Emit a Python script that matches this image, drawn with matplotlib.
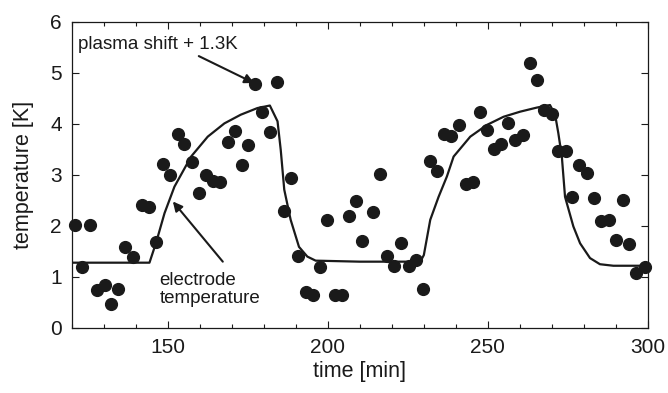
import numpy as np
import matplotlib
matplotlib.use("Agg")
import matplotlib.pyplot as plt
from matplotlib.ticker import MultipleLocator

plt.rcParams['font.family'] = ['Liberation Sans', 'DejaVu Sans']

# measured points (plasma shift + 1.3K)
t_meas = [120.9, 123.2, 125.6, 127.9, 130.3, 132.3, 134.4, 136.8, 139.1, 142.0,
          144.3, 146.4, 148.5, 150.8, 153.1, 155.2, 157.6, 159.9, 161.9, 164.0,
          166.4, 168.7, 171.0, 173.1, 175.2, 177.3, 179.6, 181.9, 184.0, 186.4,
          188.4, 190.7, 193.1, 195.4, 197.6, 199.8, 202.1, 204.3, 206.5, 208.7,
          210.8, 214.0, 216.3, 218.5, 220.8, 222.9, 225.3, 227.6, 229.7, 231.8,
          234.1, 236.2, 238.6, 240.9, 243.1, 245.5, 247.4, 249.7, 252.0, 254.1,
          256.3, 258.6, 260.9, 263.0, 265.3, 267.4, 270.0, 272.0, 274.3, 276.4,
          278.6, 280.9, 283.2, 285.3, 287.7, 289.9, 292.1, 294.1, 296.4, 299.0]
T_meas = [2.01, 1.20, 2.01, 0.75, 0.84, 0.48, 0.76, 1.59, 1.39, 2.41,
          2.38, 1.68, 3.21, 3.00, 3.80, 3.61, 3.26, 2.65, 3.00, 2.89,
          2.86, 3.65, 3.86, 3.20, 3.59, 4.78, 4.24, 3.84, 4.82, 2.30,
          2.93, 1.42, 0.70, 0.65, 1.20, 2.11, 0.65, 0.65, 2.20, 2.48,
          1.71, 2.28, 3.01, 1.42, 1.21, 1.66, 1.21, 1.34, 0.76, 3.27,
          3.08, 3.80, 3.76, 3.97, 2.82, 2.87, 4.23, 3.88, 3.51, 3.61,
          4.01, 3.69, 3.78, 5.20, 4.86, 4.28, 4.20, 3.46, 3.47, 2.56,
          3.20, 3.03, 2.55, 2.10, 2.12, 1.72, 2.51, 1.64, 1.07, 1.20]

# electrode temperature curve
t_el = [120, 144.3, 146.4, 149.0, 152.1, 157.3, 162.5, 167.7, 172.8, 178.0,
        181.9, 184.3, 185.3, 186.4, 188.4, 191.0, 193.6, 196.2, 210.0, 228.9,
        230.0, 232.0, 234.6, 237.2, 239.3, 244.5, 249.7, 254.9, 260.1, 265.3,
        269.4, 271.0, 272.0, 273.1, 274.1, 276.7, 278.8, 281.9, 285.0, 289.2, 300]
T_el = [1.28, 1.28, 1.68, 2.25, 2.77, 3.36, 3.75, 4.01, 4.18, 4.31,
        4.36, 4.05, 3.49, 2.71, 2.12, 1.59, 1.40, 1.32, 1.30, 1.30,
        1.43, 2.12, 2.57, 2.97, 3.36, 3.75, 3.98, 4.14, 4.24, 4.32,
        4.37, 4.18, 3.82, 3.36, 2.57, 1.99, 1.66, 1.37, 1.25, 1.22, 1.22]

fig = plt.figure(figsize=(6.68, 3.93), dpi=100)
ax = fig.add_axes([0.1073, 0.1654, 0.8627, 0.779])

ax.plot(t_el, T_el, color='#1a1a1a', lw=1.6, zorder=2)
ax.scatter(t_meas, T_meas, s=72, color='#1a1a1a', zorder=3, clip_on=False)

ax.set_xlim(120, 300)
ax.set_ylim(0, 6)
ax.xaxis.set_major_locator(MultipleLocator(50))
ax.xaxis.set_minor_locator(MultipleLocator(10))
ax.yaxis.set_major_locator(MultipleLocator(1))
ax.tick_params(which='both', direction='in', top=True, right=True,
               labelsize=15, colors='#1a1a1a', pad=7)
ax.tick_params(which='major', length=5, width=0.8)
ax.tick_params(which='minor', length=3, width=0.8)
for s in ax.spines.values():
    s.set_linewidth(0.9)
    s.set_color('#1a1a1a')

ax.set_xlabel('time [min]', fontsize=15.5, color='#1a1a1a', labelpad=3)
ax.set_ylabel('temperature [K]', fontsize=15.5, color='#1a1a1a', labelpad=12)

ax.annotate('plasma shift + 1.3K', xy=(177.0, 4.80), xytext=(122, 5.55),
            fontsize=13.5, color='#1a1a1a', va='center', ha='left',
            arrowprops=dict(arrowstyle='-|>', color='#1a1a1a', lw=1.5,
                            mutation_scale=14, shrinkA=0, shrinkB=0,
                            relpos=(0.72, 0.0)))
ax.annotate('', xy=(151.6, 2.48), xytext=(167.2, 1.30),
            arrowprops=dict(arrowstyle='-|>', color='#1a1a1a', lw=1.5,
                            mutation_scale=14, shrinkA=0, shrinkB=0))
ax.text(147.5, 0.75, 'electrode\ntemperature', fontsize=13.5, color='#1a1a1a',
        ha='left', va='center', linespacing=1.05)

fig.savefig('out.png', dpi=100)
